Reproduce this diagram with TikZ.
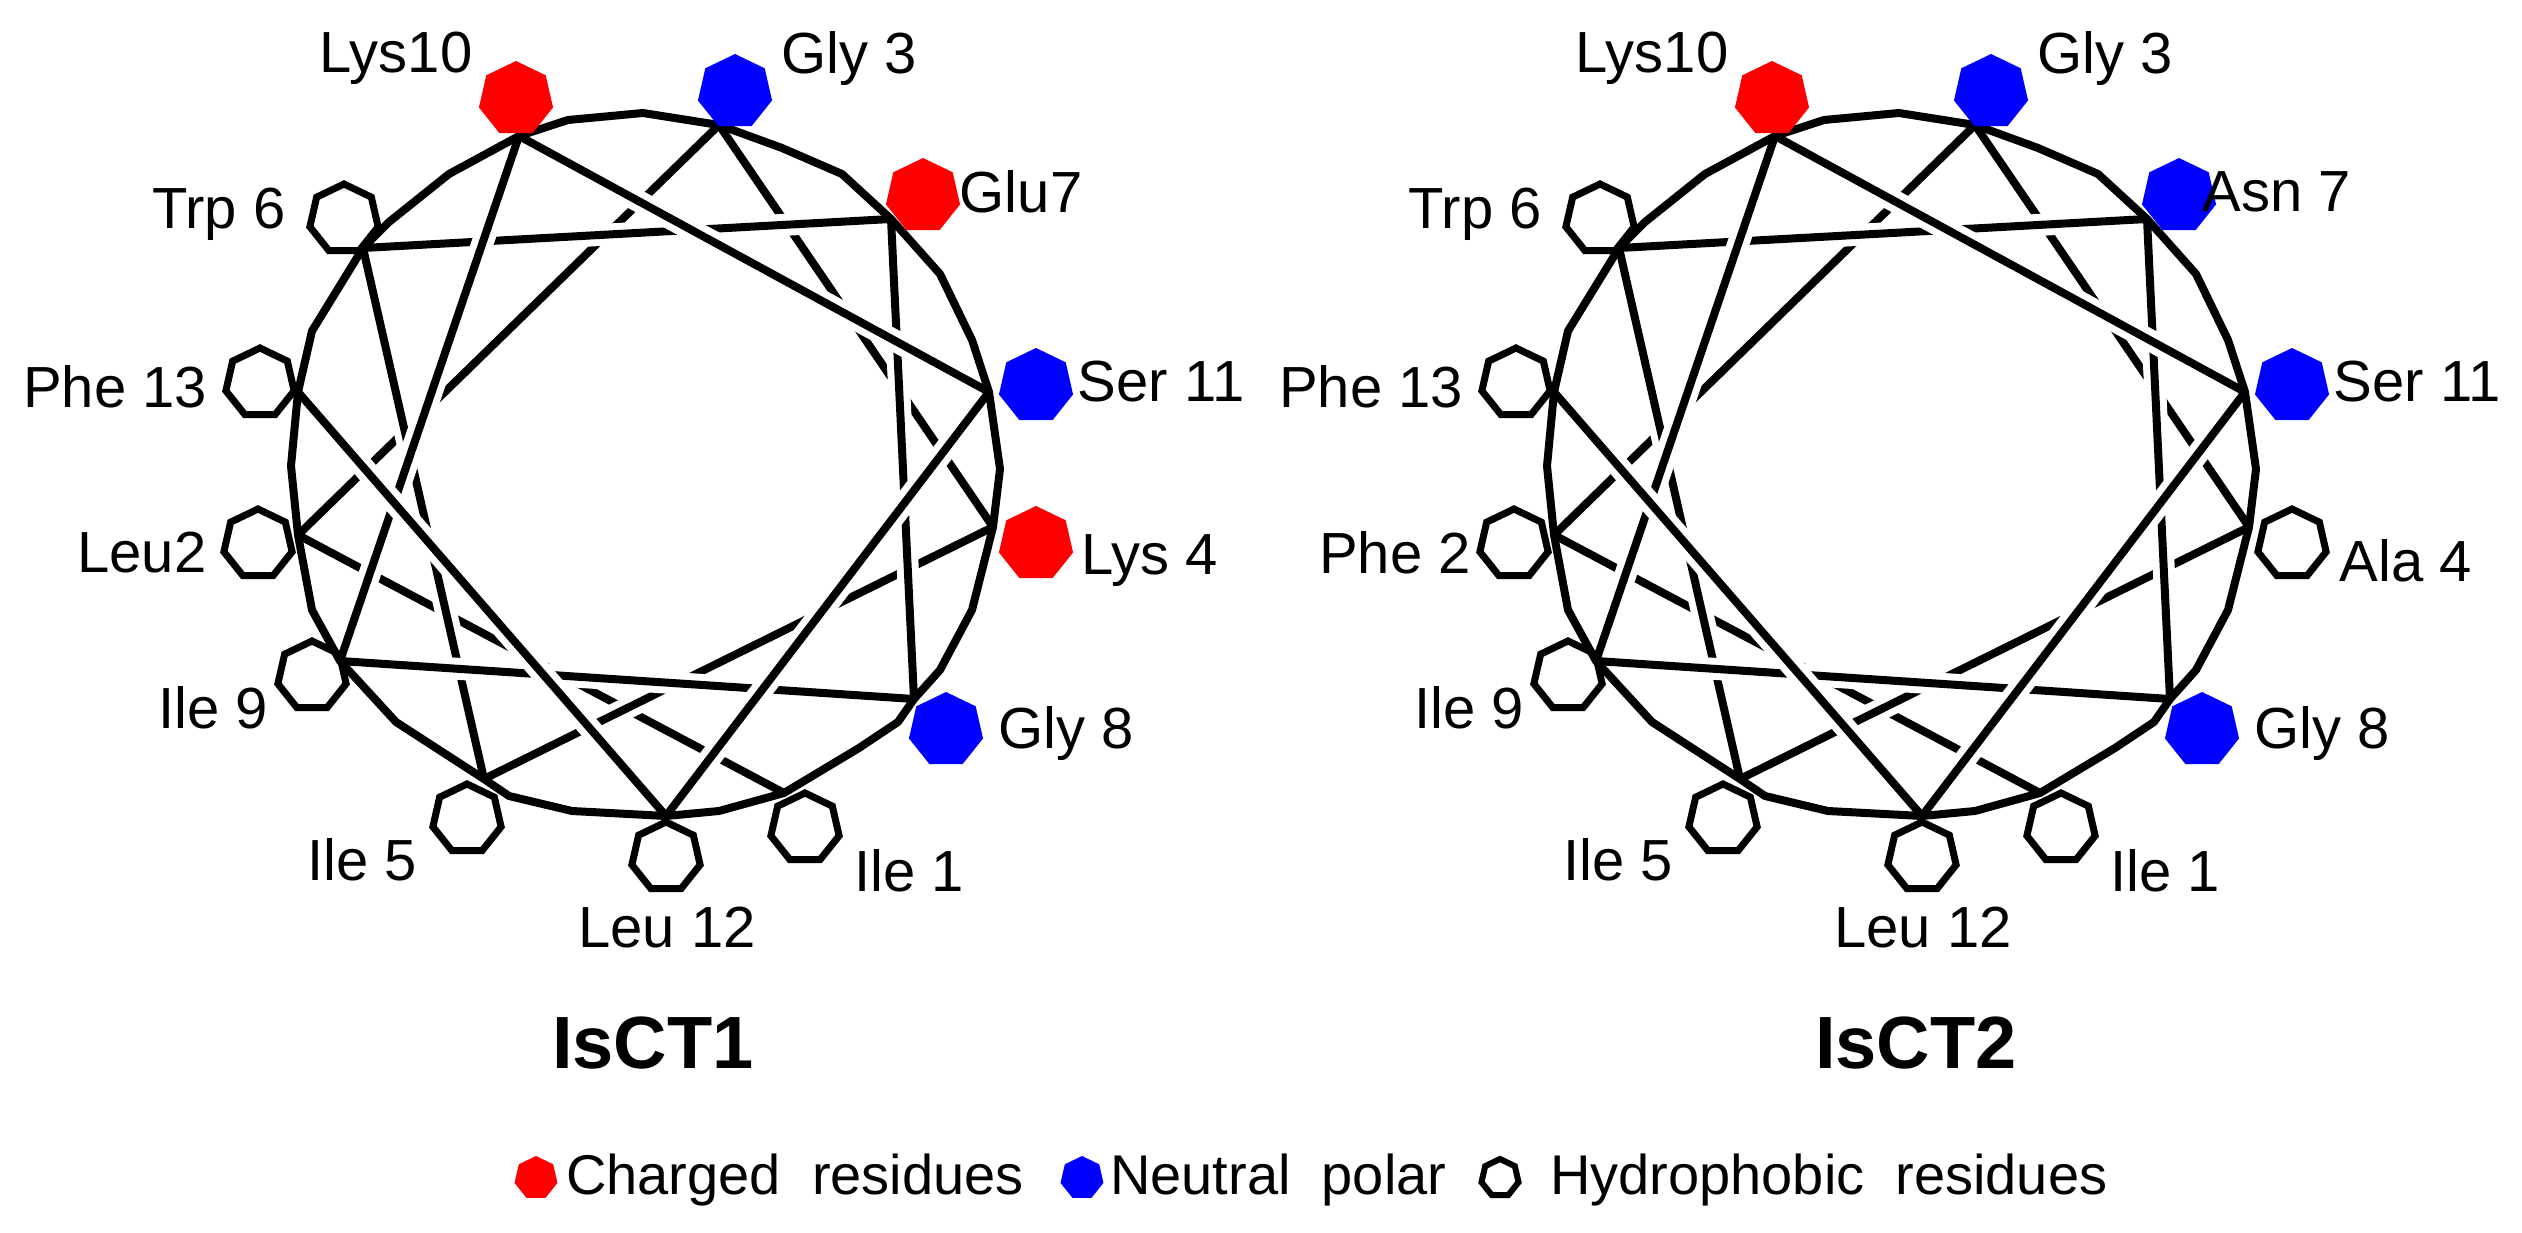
\documentclass[tikz,border=0pt]{standalone}
\usepackage{fontspec}
\setmainfont{Liberation Sans}
\usetikzlibrary{shapes.geometric}
\tikzset{
  mk/.style={regular polygon, regular polygon sides=7, minimum size=76pt, inner sep=0pt},
  charged/.style={mk, fill=red, draw=none},
  polar/.style={mk, fill=blue, draw=none},
  hyd/.style={mk, draw=black, line width=7pt, minimum size=70pt},
  seg/.style={line width=8pt, preaction={draw=white, line width=22pt, shorten <=28pt, shorten >=28pt}},
  ring/.style={line width=8pt, line join=round},
  lab/.style={font=\fontsize{58}{64}\selectfont, inner sep=0pt},
  ttl/.style={font=\fontsize{74}{80}\selectfont\bfseries, inner sep=0pt},
  leg/.style={font=\fontsize{56}{62}\selectfont, inner sep=0pt, anchor=west},
}
\newcommand\helixwheel[6]{%
  \coordinate (r1) at (784,793);
  \coordinate (r2) at (298,535);
  \coordinate (r3) at (719,125);
  \coordinate (r4) at (993,527);
  \coordinate (r5) at (484,779);
  \coordinate (r6) at (363,248);
  \coordinate (r7) at (891,219);
  \coordinate (r8) at (914,699);
  \coordinate (r9) at (340,661);
  \coordinate (r10) at (519,136);
  \coordinate (r11) at (989,392);
  \coordinate (r12) at (666,816);
  \coordinate (r13) at (298,392);
  \foreach \a/\b in {1/2,2/3,3/4,4/5,5/6,6/7,7/8,8/9,9/10,10/11,11/12,12/13}
    \draw[seg] (r\a) -- (r\b);
  \draw[ring] (519,136) -- (568,120) -- (643,113) -- (719,125) -- (782,148) -- (842,174)
    -- (891,219) -- (940,274) -- (972,340) -- (989,392) -- (1000,469) -- (993,527)
    -- (972,610) -- (940,670) -- (914,699) -- (898,722) -- (859,748) -- (784,793)
    -- (719,811) -- (666,816) -- (572,811) -- (509,796) -- (484,779) -- (396,722)
    -- (340,661) -- (312,610) -- (298,535) -- (291,466) -- (298,392) -- (312,331)
    -- (363,248) -- (389,222) -- (449,174) -- cycle;
  \node[charged] (m10) at (516,99) {};
  \node[polar] (m3) at (735,92) {};
  \node[#1] (m7) at (923,196) {};
  \node[polar] (m11) at (1036,386) {};
  \node[#3] (m4) at (1036,544) {};
  \node[polar] (m8) at (946,730) {};
  \node[hyd] (m1) at (805,828) {};
  \node[hyd] (m12) at (666,857) {};
  \node[hyd] (m5) at (467,819) {};
  \node[hyd] (m9) at (312,676) {};
  \node[hyd] (m2) at (258,544) {};
  \node[hyd] (m13) at (260,383) {};
  \node[hyd] (m6) at (344,219) {};
  \node[lab] (t10) at (396,58) {Lys10};
  \node[lab] (t3) at (849,59) {Gly 3};
  \node[lab] (t7) at (1021,192) {#2};
  \node[lab] (t11) at (1161,382) {Ser 11};
  \node[lab] (t4) at (1150,561) {#4};
  \node[lab] (t8) at (1066,733) {Gly 8};
  \node[lab] (t1) at (909,871) {Ile 1};
  \node[lab] (t12) at (667,928) {Leu 12};
  \node[lab] (t5) at (362,860) {Ile 5};
  \node[lab] (t9) at (213,708) {Ile 9};
  \node[lab] (t2) at (#6,553) {#5};
  \node[lab] (t13) at (115,387) {Phe 13};
  \node[lab] (t6) at (219,214) {Trp 6};
}
\begin{document}
\begin{tikzpicture}[x=1pt,y=-1pt]
\useasboundingbox (0,0) rectangle (2522,1233);
\begin{scope}[name prefix=L-]
  \helixwheel{charged}{Glu7}{charged}{Lys 4}{Leu2}{142}
\end{scope}
\begin{scope}[name prefix=R-, shift={(1256,0)}]
  \helixwheel{polar}{Asn 7}{hyd}{Ala 4}{Phe 2}{139}
\end{scope}
\node[ttl] (T1) at (653,1043) {IsCT1};
\node[ttl] (T2) at (1916,1043) {IsCT2};
\node[charged, minimum size=44pt] (k1) at (536,1178) {};
\node[leg] (l1) at (566,1180) {Charged\ \ residues};
\node[polar, minimum size=44pt] (k2) at (1082,1178) {};
\node[leg] (l2) at (1110,1180) {Neutral\ \ polar};
\node[hyd, minimum size=38pt, line width=6pt] (k3) at (1500,1178) {};
\node[leg] (l3) at (1550,1180) {Hydrophobic\ \ residues};
\end{tikzpicture}
\end{document}
